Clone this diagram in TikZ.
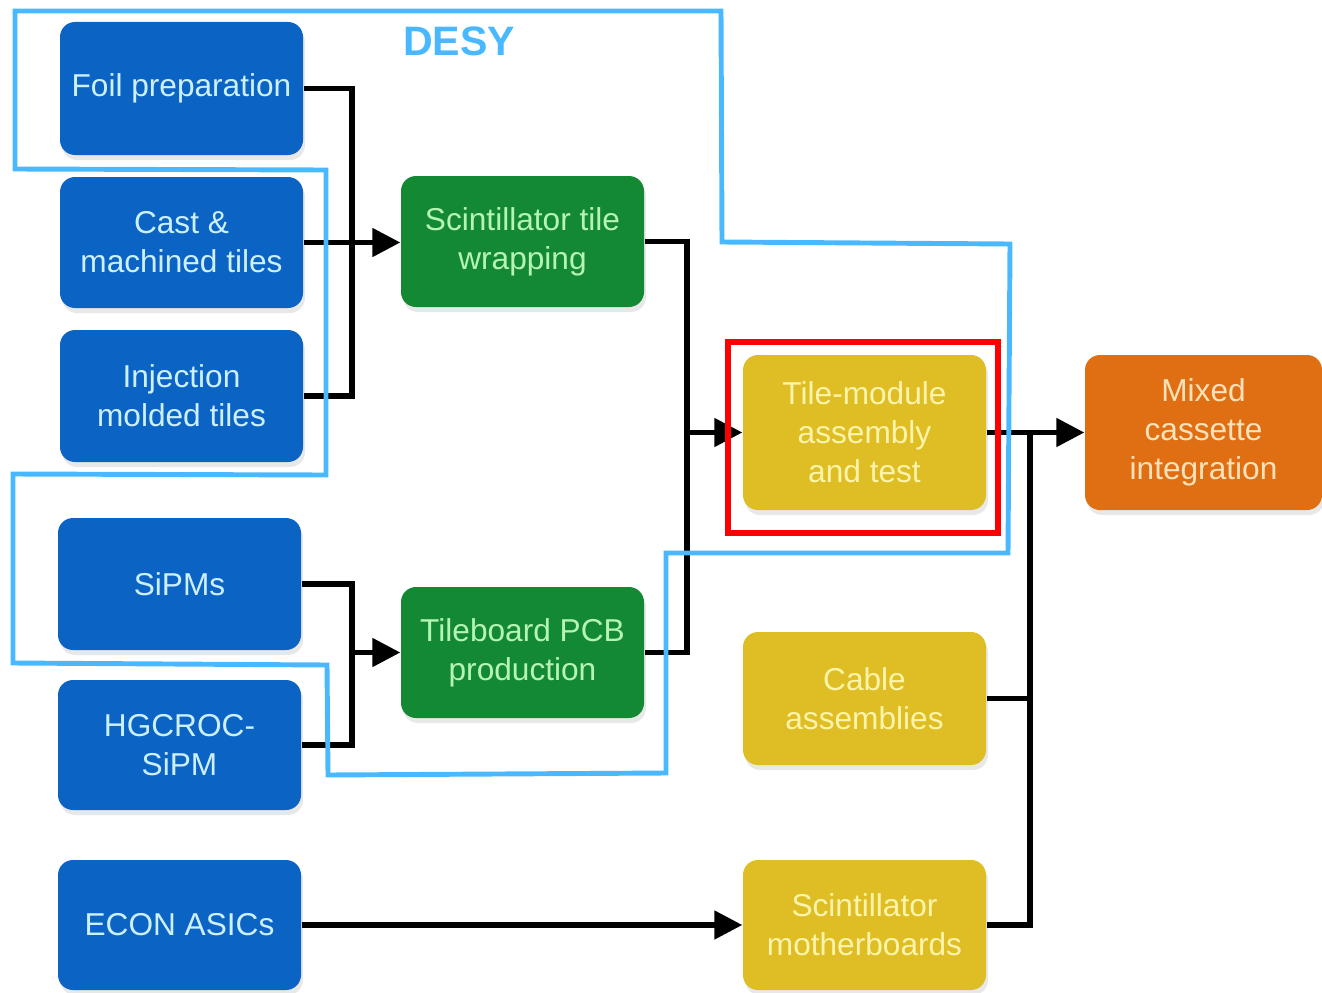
\documentclass[tikz,border=0pt]{standalone}
\usepackage{fontspec}
\setmainfont{Liberation Sans}
\usetikzlibrary{arrows.meta,calc,shadows}
\definecolor{inblue}{RGB}{11,99,196}
\definecolor{ingreen}{RGB}{20,137,52}
\definecolor{inyellow}{RGB}{222,190,36}
\definecolor{inorange}{RGB}{224,111,20}
\definecolor{desyblue}{RGB}{74,184,255}
\tikzset{
	stage/.style={
			draw=none, rounded corners=0.15cm, minimum width=2.43cm,
			inner sep=0pt, align=center,
			font=\fontsize{9}{11.1}\selectfont,
			drop shadow={opacity=0.18, shadow xshift=0.2mm, shadow yshift=-0.5mm}
		},
	supply/.style={stage, fill=inblue, text={rgb,255:red,205;green,240;blue,255}},
	made/.style={stage, fill=ingreen, text={rgb,255:red,180;green,245;blue,180}},
	assembly/.style={stage, fill=inyellow, text={rgb,255:red,255;green,244;blue,170}},
	final/.style={stage, fill=inorange, text={rgb,255:red,255;green,226;blue,185}, minimum width=2.37cm},
	wire/.style={line width=1.45pt},
	feed/.style={wire, -{Triangle[length=2.8mm,width=2.8mm]}}
}

\begin{document}
\begin{tikzpicture}

			\useasboundingbox (0,0) rectangle (13.22,-9.93);

			% Draw the supply stages
			\node[supply, minimum height=1.33cm] (foil) at (1.815,-0.885) {Foil preparation};
			\node[supply, minimum height=1.31cm] (cast) at (1.815,-2.425) {Cast \&\\machined tiles};
			\node[supply, minimum height=1.32cm] (inject) at (1.815,-3.96) {Injection\\molded tiles};
			\node[supply, minimum height=1.32cm] (sipm) at (1.795,-5.84) {SiPMs};
			\node[supply, minimum height=1.30cm] (hgcroc) at (1.795,-7.45) {HGCROC-\\SiPM};
			\node[supply, minimum height=1.30cm] (econ) at (1.795,-9.25) {ECON ASICs};

			% Draw the production stages
			\node[made, minimum height=1.31cm] (wrap) at (5.225,-2.415) {Scintillator tile\\wrapping};
			\node[made, minimum height=1.31cm] (pcb) at (5.225,-6.525) {Tileboard PCB\\production};

			% Draw the assembly stages
			\node[assembly, minimum height=1.55cm] (tma) at (8.645,-4.325) {Tile-module\\assembly\\and test};
			\node[assembly, minimum height=1.33cm] (cable) at (8.645,-6.985) {Cable\\assemblies};
			\node[assembly, minimum height=1.30cm] (mobo) at (8.645,-9.25) {Scintillator\\motherboards};
			\node[final, minimum height=1.55cm] (mixed) at (12.035,-4.325) {Mixed\\cassette\\integration};

			% Junctions of the connectors
			\coordinate (tilejoin) at (3.52,-2.425);
			\coordinate (sensjoin) at (3.52,-6.525);
			\coordinate (modjoin) at (6.87,-4.325);
			\coordinate (cassjoin) at (10.30,-4.325);

			% Draw the connectors
			\draw[wire] (foil.east) -| (tilejoin) |- (inject.east);
			\draw[wire] (cast.east) -- (tilejoin);
			\draw[feed] (tilejoin) -- (tilejoin -| wrap.west);

			\draw[wire] (sipm.east) -| (sensjoin) |- (hgcroc.east);
			\draw[feed] (sensjoin) -- (pcb.west);

			\draw[wire] (wrap.east) -| (modjoin) |- (pcb.east);
			\draw[feed] (modjoin) -- (tma.west);

			\draw[feed] (tma.east) -- (mixed.west);
			\draw[wire] (mobo.east) -| (cassjoin);
			\draw[wire] (cable.east) -- (cable.east -| cassjoin);

			\draw[feed] (econ.east) -- (mobo.west);

			% Draw the DESY outline
			\draw[desyblue, line width=1.4pt]
				(0.15,-0.11) -- (7.21,-0.11) -- (7.22,-2.42) -- (10.10,-2.44) -- (10.08,-5.53)
				-- (6.66,-5.53) -- (6.66,-7.73) -- (3.28,-7.75) -- (3.27,-6.65) -- (0.13,-6.63)
				-- (0.13,-4.74) -- (3.26,-4.75) -- (3.26,-1.70) -- (0.15,-1.69) -- cycle;
			\node[desyblue, font=\fontsize{11.7}{14}\selectfont\bfseries] (desy) at (4.59,-0.41) {DESY};

			% Highlight of the tile-module stage
			\draw[red, line width=1.7pt] (7.28,-3.42) rectangle (9.98,-5.33);

		\end{tikzpicture}
\end{document}
